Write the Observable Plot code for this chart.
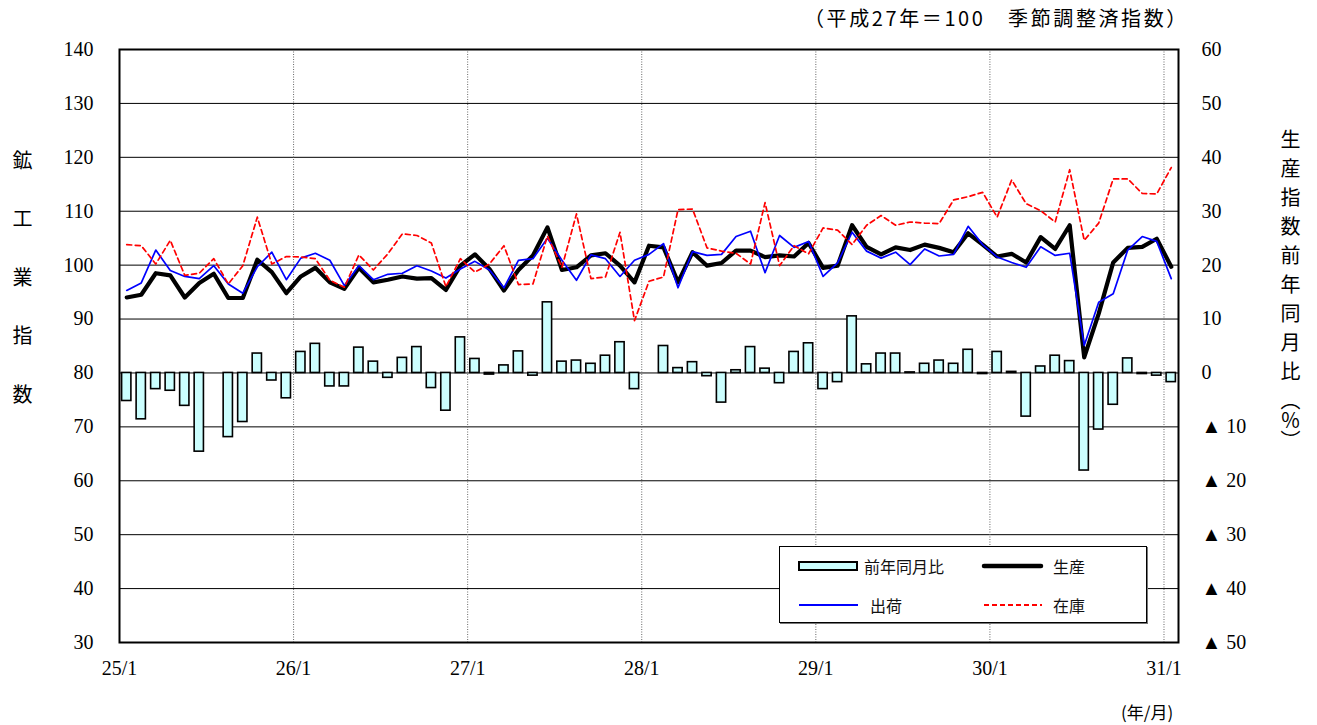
<!DOCTYPE html>
<html>
<head>
<meta charset="utf-8">
<script src="https://cdn.jsdelivr.net/npm/d3@7"></script>
<script src="https://cdn.jsdelivr.net/npm/@observablehq/plot@0.6"></script>
<style>
  body { margin: 0; background: #fff; }
  #wrap { position: relative; width: 1317px; height: 725px; overflow: hidden; background: #fff; }
  .jp { position: absolute; font-family: "Noto Sans CJK JP", sans-serif; color: #000; white-space: nowrap; line-height: 1; }
  .vert { writing-mode: vertical-rl; }
  #legend { position: absolute; left: 779px; top: 546px; width: 368px; height: 77px; border: 1px solid #000; background: #fff; box-sizing: border-box; box-shadow: 1px 1px 0 #777; }
  svg.mainchart text { font-family: "Liberation Serif", "DejaVu Serif", serif !important; font-size: 20px !important; }
</style>
</head>
<body>
<div id="wrap"></div>
<script>
// ---- data (monthly, 平成25年1月 … 平成31年1月) ----
const xTickLabels = ["25/1", "26/1", "27/1", "28/1", "29/1", "30/1", "31/1"];
const leftTicks = [30, 40, 50, 60, 70, 80, 90, 100, 110, 120, 130, 140];
const rightTickLabels = ["▲ 50", "▲ 40", "▲ 30", "▲ 20", "▲ 10", "0", "10", "20", "30", "40", "50", "60"];
const seriesNames = ["前年同月比", "生産", "出荷", "在庫"];

// 生産指数前年同月比 (%)
const yoy = [
  -5.2, -8.6, -3.0, -3.3, -6.1, -14.6, null, -11.9, -9.1, 3.6, -1.4, -4.7,
  3.9, 5.4, -2.5, -2.5, 4.7, 2.1, -0.9, 2.8, 4.8, -2.8, -7.0, 6.6,
  2.6, -0.3, 1.4, 4.0, -0.5, 13.1, 2.1, 2.3, 1.7, 3.2, 5.7, -3.0,
  null, 5.0, 0.9, 2.0, -0.6, -5.5, 0.5, 4.8, 0.8, -1.9, 3.9, 5.5,
  -3.0, -1.7, 10.5, 1.6, 3.6, 3.6, 0.1, 1.7, 2.3, 1.7, 4.3, -0.2,
  3.9, 0.2, -8.1, 1.2, 3.2, 2.2, -18.1, -10.5, -5.9, 2.7, -0.2, -0.5,
  -1.7
];
// 生産
const production = [
  94.0, 94.5, 98.5, 98.1, 94.0, 96.7, 98.4, 93.9, 93.9, 101.0, 98.7, 94.8,
  97.9, 99.5, 96.8, 95.6, 99.5, 96.8, 97.3, 97.9, 97.5, 97.6, 95.4, 99.9,
  102.0, 99.3, 95.3, 99.1, 101.8, 107.0, 99.1, 99.6, 101.8, 102.2, 99.9, 96.8,
  103.6, 103.3, 96.8, 102.4, 99.9, 100.4, 102.7, 102.7, 101.5, 101.8, 101.6, 104.1,
  99.5, 99.9, 107.4, 103.4, 102.0, 103.3, 102.8, 103.8, 103.2, 102.4, 105.9, 103.8,
  101.6, 102.1, 100.5, 105.2, 103.0, 107.4, 82.9, 91.0, 100.5, 103.2, 103.4, 104.9,
  99.7
];
// 出荷
const shipments = [
  95.3, 96.7, 102.8, 99.0, 97.9, 97.5, 99.9, 96.5, 94.8, 99.7, 102.4, 97.3,
  101.3, 102.2, 100.9, 96.2, 99.9, 97.3, 98.3, 98.5, 99.9, 98.9, 97.6, 99.3,
  100.7, 99.1, 95.8, 100.9, 101.2, 105.0, 100.9, 97.2, 101.9, 101.2, 97.9, 100.9,
  102.0, 104.0, 95.8, 102.5, 101.8, 102.0, 105.3, 106.3, 98.6, 105.5, 103.3, 104.4,
  97.9, 100.4, 106.1, 102.6, 101.3, 102.4, 100.1, 103.0, 101.7, 102.0, 107.2, 103.8,
  101.5, 100.5, 99.6, 103.4, 101.8, 102.2, 85.1, 93.1, 94.7, 102.8, 105.3, 104.4,
  97.5
];
// 在庫
const inventory = [
  103.8, 103.6, 100.2, 104.6, 98.1, 98.5, 101.2, 96.5, 99.9, 108.9, 100.2, 101.6,
  101.5, 101.2, 97.2, 95.9, 101.9, 99.1, 102.1, 105.8, 105.5, 104.1, 96.0, 101.2,
  98.7, 100.2, 103.6, 96.4, 96.5, 105.4, 99.6, 109.5, 97.5, 97.8, 106.1, 89.7,
  97.0, 97.8, 110.3, 110.4, 103.2, 102.6, 102.2, 100.2, 111.6, 99.9, 103.6, 102.1,
  106.9, 106.5, 103.8, 107.4, 109.2, 107.4, 108.0, 107.8, 107.7, 112.1, 112.7, 113.5,
  108.9, 115.8, 111.4, 110.1, 108.0, 117.7, 104.6, 107.8, 116.0, 116.0, 113.3, 113.2,
  118.1
];

// ---- build table ----
const rows = yoy.map((v, i) => ({
  i, yoy: v, production: production[i], shipments: shipments[i], inventory: inventory[i]
}));
const monthsPerYear = 12;
const yearStarts = xTickLabels.map((_, k) => k * monthsPerYear);
const yoyZero = 80; // left-axis value aligned with 0% on the right axis

const chart = Plot.plot({
  width: 1317,
  height: 725,
  marginLeft: 119,
  marginRight: 139,
  marginTop: 49,
  marginBottom: 83,
  className: "mainchart",
  x: { domain: [0, rows.length] },
  y: { domain: [leftTicks[0], leftTicks[leftTicks.length - 1]] },
  style: {
    fontFamily: '"Liberation Serif", "DejaVu Serif", serif',
    fontSize: "20px",
    background: "transparent",
    overflow: "visible",
    color: "#000"
  },
  marks: [
    Plot.ruleY(leftTicks, { stroke: "#000", strokeWidth: 1 }),
    Plot.ruleX(yearStarts.slice(1), { stroke: "#666", strokeWidth: 1, strokeDasharray: "1,1.5" }),
    Plot.rectY(rows, {
      x1: d => d.i + 0.18,
      x2: d => d.i + 0.82,
      y1: () => yoyZero,
      y2: d => (d.yoy == null ? NaN : yoyZero + d.yoy),
      fill: "#ccffff",
      stroke: "#000",
      strokeWidth: 1.6
    }),
    Plot.line(rows, { x: d => d.i + 0.5, y: "production", stroke: "#000", strokeWidth: 4.2, strokeLinejoin: "round" }),
    Plot.line(rows, { x: d => d.i + 0.5, y: "shipments", stroke: "#0000ff", strokeWidth: 1.7 }),
    Plot.line(rows, { x: d => d.i + 0.5, y: "inventory", stroke: "#ff0000", strokeWidth: 1.7, strokeDasharray: "5,3.5" }),
    Plot.frame({ stroke: "#000", strokeWidth: 2 }),
    Plot.axisX({ ticks: yearStarts, tickFormat: d => xTickLabels[d / monthsPerYear], tickSize: 0, tickPadding: 18, label: null }),
    Plot.axisY({ anchor: "left", ticks: leftTicks, tickSize: 0, tickPadding: 26, label: null }),
    Plot.axisY({ anchor: "right", ticks: leftTicks, tickSize: 0, tickPadding: 23, label: null,
      tickFormat: d => rightTickLabels[leftTicks.indexOf(d)] })
  ]
});

const wrap = document.getElementById("wrap");
wrap.appendChild(chart);
chart.style.position = "absolute";
chart.style.left = "0px";
chart.style.top = "0px";

// ---- texts ----
function addDiv(cls, html, css) {
  const el = document.createElement("div");
  el.className = cls;
  el.innerHTML = html;
  Object.assign(el.style, css);
  wrap.appendChild(el);
  return el;
}
addDiv("jp", "（平成27年＝100　季節調整済指数）", { left: "804px", top: "8px", fontSize: "20px", letterSpacing: "2.6px" });
addDiv("jp vert", "鉱工業指数", { left: "12px", top: "150px", fontSize: "20px", letterSpacing: "38.5px" });
addDiv("jp vert", '生産指数前年同月比<span style="letter-spacing:0">（％）</span>', { left: "1280px", top: "129px", fontSize: "20px", letterSpacing: "9px" });
addDiv("jp", "(年/月)", { left: "1121px", top: "703px", fontSize: "17px" });

// ---- legend ----
const legend = document.createElement("div");
legend.id = "legend";
wrap.appendChild(legend);
const ns = "http://www.w3.org/2000/svg";
const lsvg = document.createElementNS(ns, "svg");
lsvg.setAttribute("width", 366);
lsvg.setAttribute("height", 75);
legend.appendChild(lsvg);
function el(tag, attrs, text) {
  const e = document.createElementNS(ns, tag);
  for (const k in attrs) e.setAttribute(k, attrs[k]);
  if (text) e.textContent = text;
  lsvg.appendChild(e);
  return e;
}
const txt = { "font-family": '"Noto Sans CJK JP", sans-serif', "font-size": 16, "dominant-baseline": "central", fill: "#111" };
el("rect", { x: 19, y: 15, width: 58, height: 8, fill: "#ccffff", stroke: "#000", "stroke-width": 2 });
el("text", { ...txt, x: 84, y: 19 }, seriesNames[0]);
el("line", { x1: 204, x2: 261, y1: 19, y2: 19, stroke: "#000", "stroke-width": 4.5, "stroke-linecap": "round" });
el("text", { ...txt, x: 273, y: 19 }, seriesNames[1]);
el("line", { x1: 19, x2: 78, y1: 58, y2: 58, stroke: "#0000ff", "stroke-width": 2 });
el("text", { ...txt, x: 90, y: 58 }, seriesNames[2]);
el("line", { x1: 204, x2: 262, y1: 58, y2: 58, stroke: "#ff0000", "stroke-width": 2, "stroke-dasharray": "5,3" });
el("text", { ...txt, x: 273, y: 58 }, seriesNames[3]);
</script>
</body>
</html>
